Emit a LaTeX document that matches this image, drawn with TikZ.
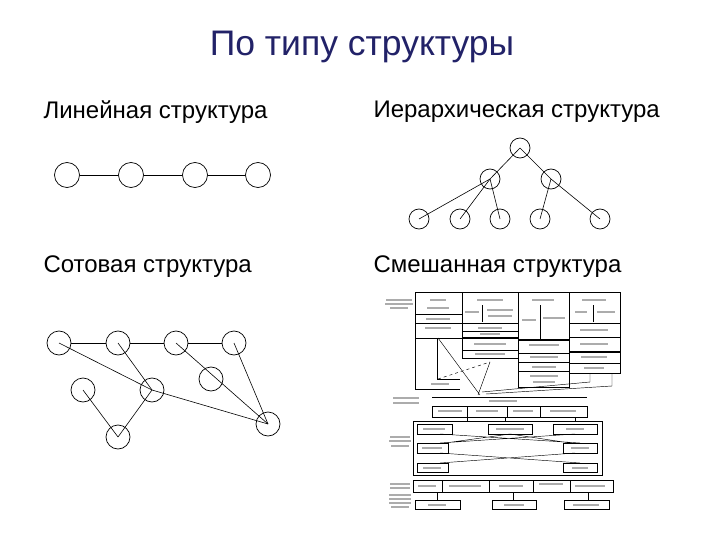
\documentclass[tikz,border=0pt]{standalone}
\usepackage{fontspec}
\setmainfont{Liberation Sans}
\definecolor{titleblue}{RGB}{34,34,104}

\tikzset{
  vertex/.style={circle,draw,line width=0.7pt,inner sep=0pt},
  heading/.style={anchor=west,font=\fontsize{24}{28}\selectfont},
  cell/.style={draw,line width=0.45pt},
  heavy/.style={draw,line width=1.1pt},
  smudge/.style={gray!65,line width=2.2pt}
}

\begin{document}
\begin{tikzpicture}[x=1pt,y=-1pt]
  \useasboundingbox (0,0) rectangle (720,540);

  \node[text=titleblue,font=\fontsize{35.5}{40}\selectfont] (title) at (362,47) {По типу структуры};
  \node[heading] (hlin) at (40,112) {Линейная структура};
  \node[heading] (hier) at (370,112) {Иерархическая структура};
  \node[heading] (hcell) at (40,267) {Сотовая структура};
  \node[heading] (hmix) at (370,267) {Смешанная структура};

  % linear
  \foreach \i/\x in {1/67,2/131,3/195,4/258}
    \node[vertex,minimum size=25pt] (l\i) at (\x,175) {};
  \draw[line width=0.7pt] (l1) -- (l2) -- (l3) -- (l4);

  % hierarchy
  \begin{scope}[every node/.style={vertex,minimum size=20pt}]
    \node (h0) at (520,148) {};
    \node (h1) at (490,179) {};
    \node (h2) at (551,179) {};
    \foreach \i/\x in {1/419,2/460,3/500,4/540,5/600}
      \node (b\i) at (\x,219) {};
  \end{scope}
  \foreach \a/\b in {h0/h1,h0/h2,h1/b1,h1/b2,h1/b3,h2/b4,h2/b5}
    \draw[line width=0.6pt] (\a.center) -- (\b.center);

  % cellular
  \begin{scope}[every node/.style={vertex,minimum size=24pt}]
    \node (c1) at (59,343) {};
    \node (c2) at (118,343) {};
    \node (c3) at (176,343) {};
    \node (c4) at (234,343) {};
    \node (c5) at (83,390) {};
    \node (c6) at (152,390) {};
    \node (c7) at (211,379) {};
    \node (c8) at (118,437) {};
    \node (c9) at (268,424) {};
  \end{scope}
  \draw[line width=0.7pt] (c1) -- (c2) -- (c3) -- (c4);
  \foreach \a/\b in {c1/c6,c6/c9,c2/c6,c6/c8,c5/c8,c3/c9,c4/c9}
    \draw[line width=0.6pt] (\a.center) -- (\b.center);

  % mixed (upper part)
  \draw[cell] (415,292) -- (620,292);
  \draw[cell] (415,292) -- (415,389) -- (460,389);
  \draw[cell] (462,292) -- (462,358) -- (518,358);
  \draw[cell] (518,292) -- (518,387) -- (569,387) -- (569,292);
  \draw[cell] (569,373) -- (620,373) -- (620,292);
  \draw[cell] (415,314) -- (462,314) (415,338) -- (462,338);
  \draw[heavy] (415,323.5) -- (518,323.5) (462,338) -- (518,338);
  \draw[cell] (482,305) -- (482,322) (462,331) -- (518,331) (462,350) -- (518,350);
  \draw[cell] (540,305) -- (540,340) (518,353) -- (569,353) (518,362) -- (569,362) (518,371) -- (569,371);
  \draw[heavy] (518,340) -- (569,340) (569,352) -- (620,352);
  \draw[cell] (593,305) -- (593,322) (569,323) -- (620,323) (569,337) -- (620,337) (569,363) -- (620,363);
  \draw[cell] (437,338) -- (437,379) -- (460,379);
  \draw[cell] (438,338) -- (480,395) (490,362) -- (478,395);
  \draw[cell,dashed] (438,379) -- (490,362);
  \draw[cell] (590,373) -- (590,382) -- (482,392) (612,373) -- (612,386) -- (486,394);
  \draw[cell] (432,397) -- (587,397) (432,406) -- (587,406);

  % mixed (lower part)
  \draw[cell] (432,406) -- (432,417) -- (587,417) -- (587,406);
  \foreach \x in {467,507,540} \draw[cell] (\x,406) -- (\x,417);
  \foreach \x in {467,505,575} \draw[cell] (\x,417) -- (\x,421);
  \draw[cell] (413,421) rectangle (602,475);
  \draw[cell] (417,424) rectangle (452,434) (488,424) rectangle (532,434) (553,424) rectangle (597,434);
  \draw[cell] (417,443) rectangle (448,453) (563,443) rectangle (597,453);
  \draw[cell] (417,463) rectangle (448,472) (563,463) rectangle (597,472);
  \draw[cell] (440,434) -- (580,443) (575,434) -- (440,443) (510,434) -- (445,443) (510,434) -- (570,443);
  \draw[cell] (440,453) -- (580,463) (575,453) -- (440,463);
  \draw[cell] (413,480) rectangle (613,492);
  \foreach \x in {442,489,533,570} \draw[cell] (\x,480) -- (\x,492);
  \foreach \x in {437,513,588} \draw[cell] (\x,492) -- (\x,500);
  \draw[cell] (415,500) rectangle (460,509) (492,500) rectangle (536,509) (564,500) rectangle (609,509);

  % blurred labels
  \foreach \x/\y/\w in {399/300/26,399/304/28,399/308/18,438/300/16,438/308/22,438/319/24,438/328/26,
    490/300/26,472/312/14,500/310/26,500/316/24,490/328/24,490/334/20,490/344/32,490/354/30,
    543/300/22,529/320/14,554/318/22,544/345/30,544/357/28,544/367/24,544/376/28,544/382/22,
    594/300/24,581/312/12,606/312/18,594/330/28,594/344/28,594/357/26,594/368/20,440/384/18,
    503/401/28,406/398/26,406/403/26,450/411/24,487/411/22,523/411/20,563/411/26,
    434/429/22,510/429/28,575/429/18,432/448/20,580/448/18,432/468/18,580/468/16,
    400/437/20,400/441/22,400/446/18,427/486/18,465/486/32,511/486/24,551/484/24,590/486/30,
    400/484/20,400/488/20,400/495/22,400/499/22,400/503/22,400/507/18,437/505/18,514/505/20,586/505/26}
    \draw[smudge] (\x-\w/2,\y) -- (\x+\w/2,\y);
\end{tikzpicture}
\end{document}
